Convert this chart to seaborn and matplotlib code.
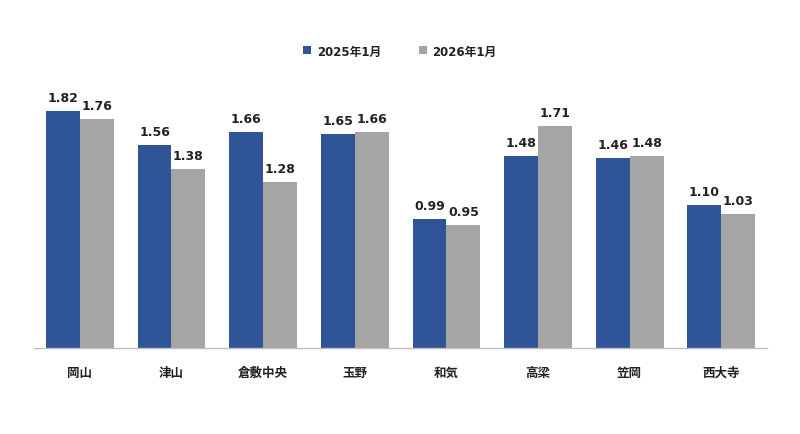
import matplotlib
matplotlib.use('Agg')
import matplotlib.pyplot as plt
import seaborn as sns
import pandas as pd

areas = ['岡山', '津山', '倉敷中央', '玉野', '和気', '高梁', '笠岡', '西大寺']
jan_2025 = [1.82, 1.56, 1.66, 1.65, 0.99, 1.48, 1.46, 1.10]
jan_2026 = [1.76, 1.38, 1.28, 1.66, 0.95, 1.71, 1.48, 1.03]
series = ['2025年1月', '2026年1月']
colors = ['#2F5597', '#A5A5A5']

df = pd.DataFrame({
    'area': areas * 2,
    'value': jan_2025 + jan_2026,
    'series': [series[0]] * len(areas) + [series[1]] * len(areas),
})

sns.set_style('white')
plt.rcParams['font.family'] = ['DejaVu Sans', 'Noto Sans CJK JP']

fig = plt.figure(figsize=(8, 4.35), dpi=100)
ax = fig.add_axes([0.0425, 0.1977, 0.9165, 0.5977])

sns.barplot(data=df, x='area', y='value', hue='series', palette=colors,
            width=0.74, saturation=1, linewidth=0, ax=ax, legend=True)

for container in ax.containers:
    ax.bar_label(container, fmt='%.2f', padding=5, fontsize=9,
                 fontweight='bold', color='#222222')

ax.set_ylim(0, 2.0)
ax.set_xlim(-0.5, len(areas) - 0.5)
ax.set_xlabel('')
ax.set_ylabel('')
ax.set_yticks([])
ax.tick_params(axis='x', length=0, pad=13)
for lbl in ax.get_xticklabels():
    lbl.set_fontsize(9)
    lbl.set_fontweight('bold')
    lbl.set_color('#222222')
for side in ['top', 'right', 'left']:
    ax.spines[side].set_visible(False)
ax.spines['bottom'].set_color('#BFBFBF')
ax.spines['bottom'].set_linewidth(1)

leg = ax.legend(loc='center', ncol=2, frameon=False,
                handlelength=0.65, handleheight=0.65,
                handletextpad=0.5, columnspacing=3.2,
                prop={'weight': 'bold', 'size': 8.5})
leg.set_bbox_to_anchor((0.5, 1 - 52 / 435), transform=fig.transFigure)
for t in leg.get_texts():
    t.set_color('#222222')

fig.savefig('out.png', dpi=100, facecolor='white')
